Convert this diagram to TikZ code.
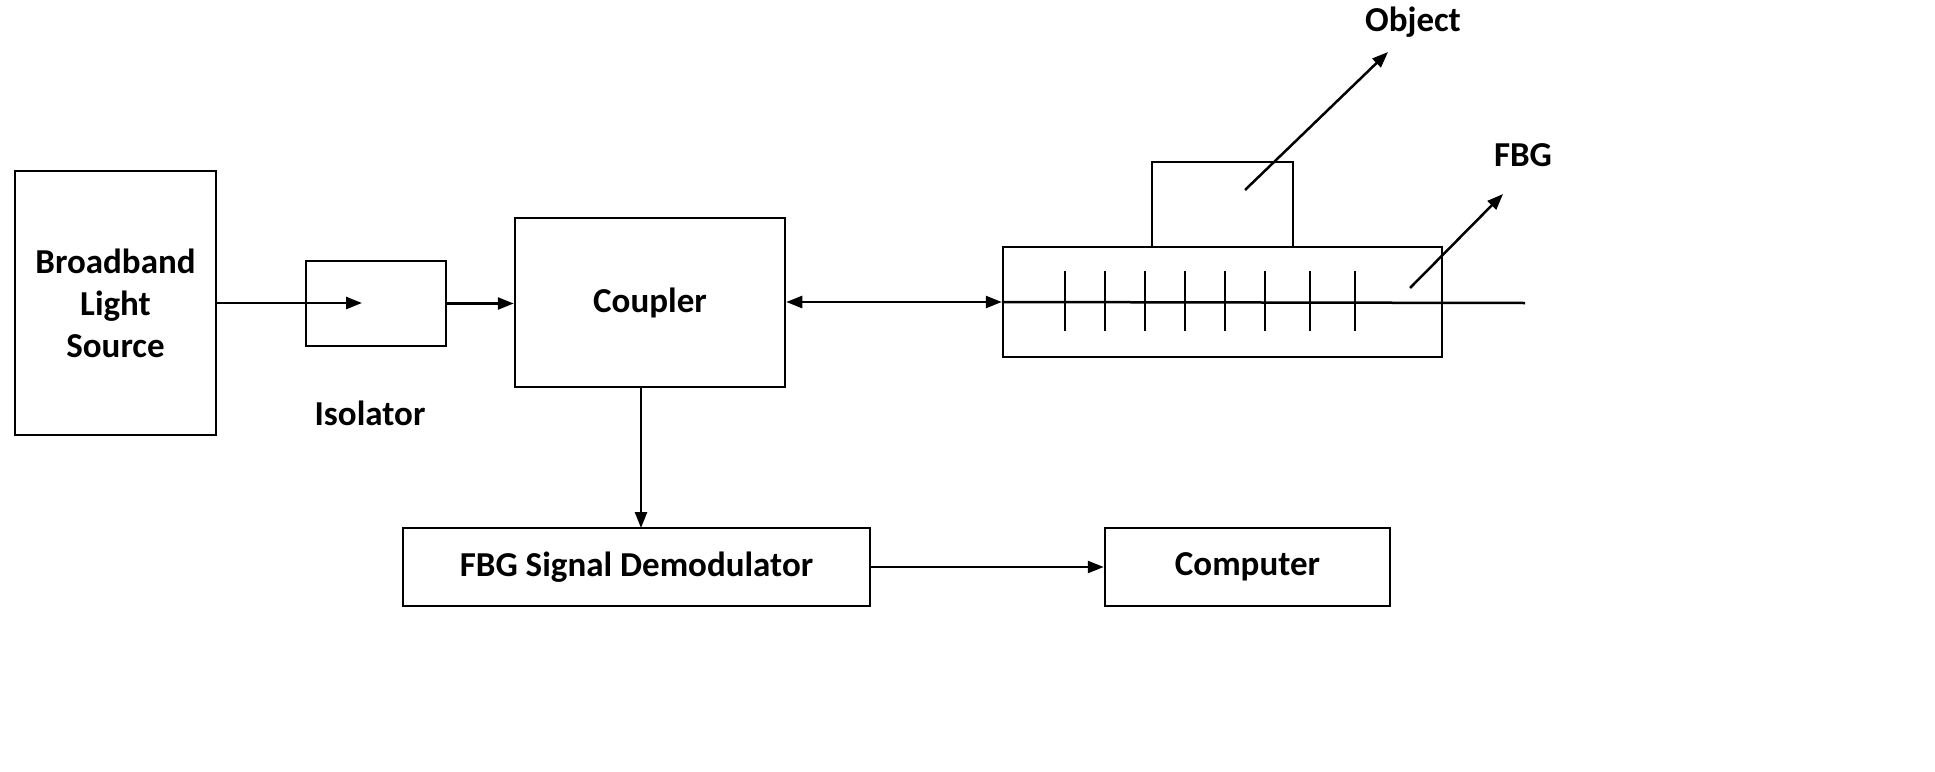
\documentclass[tikz,border=0pt]{standalone}
\usepackage{fontspec}
\setmainfont{Carlito}
\usetikzlibrary{arrows.meta}
\begin{document}
\begin{tikzpicture}[x=1pt,y=-1pt,
  box/.style={draw,line width=2.5pt,inner sep=0pt},
  lbl/.style={font=\fontsize{35}{42}\selectfont\bfseries,align=center},
  ar/.style={line width=2.5pt,-{Triangle[length=16pt,width=12pt]}},
  ln/.style={line width=2.5pt}]
\useasboundingbox (0,0) rectangle (1935,771);
\node[box,minimum width=201pt,minimum height=264pt,lbl] (src) at (115.5,303) {Broadband\\Light\\Source};
\node[box,minimum width=140pt,minimum height=85pt] (iso) at (376,303.5) {};
\coordinate (isoin) at (362,303);
\node[box,minimum width=270pt,minimum height=169pt,lbl] (cp) at (650,302.5) {Coupler};
\node[box,minimum width=439pt,minimum height=110pt] (fbg) at (1222.5,302) {};
\node[box,minimum width=141pt,minimum height=85pt] (obj) at (1222.5,204.5) {};
\node[box,minimum width=467pt,minimum height=78pt,lbl] (dem) at (636.5,567) {FBG Signal Demodulator};
\node[box,minimum width=285pt,minimum height=78pt,lbl] (pc) at (1247.5,567) {Computer};
\node[lbl] (isol) at (370,413) {Isolator};
\node[lbl] (objl) at (1413,22) {Object};
\node[lbl] (fbgl) at (1523,155) {FBG};
\coordinate (fend) at (1525,303);
\coordinate (oa) at (1245,190);
\coordinate (ob) at (1388,52);
\coordinate (fa) at (1410,288);
\coordinate (fb) at (1503,194);
\coordinate (cpd) at (641,387);
\coordinate (demu) at (641,528);
\draw[ar] (src.east |- isoin) -- (isoin);
\draw[ar] (iso.east) -- (cp.west |- iso.east);
\draw[ln,{Triangle[length=16pt,width=12pt]}-{Triangle[length=16pt,width=12pt]}] (cp.east |- fbg.west) -- (fbg.west);
\draw[ln] (fbg.west) -- (fend);
\foreach \x in {1065,1105,1145,1185,1225,1265,1310,1355} \draw[ln] (\x,271) -- (\x,331);
\draw[ar] (cpd) -- (demu);
\draw[ar] (dem.east) -- (pc.west);
\draw[ar] (oa) -- (ob);
\draw[ar] (fa) -- (fb);
\end{tikzpicture}
\end{document}
